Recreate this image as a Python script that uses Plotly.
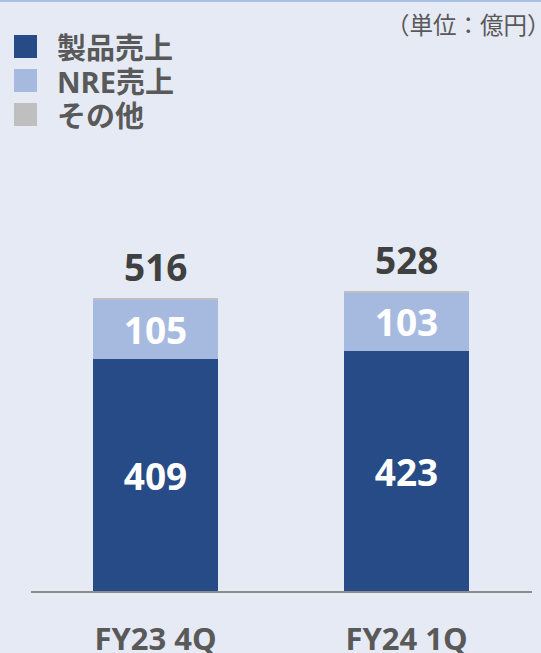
import plotly.graph_objects as go

# ---- data ----
categories = ["FY23 4Q", "FY24 1Q"]
series_names = ["製品売上", "NRE売上", "その他"]
product_sales = [409, 423]
nre_sales = [105, 103]
other_sales = [2, 2]
totals = [516, 528]
unit_label = "（単位：億円）"

colors = ["#264b86", "#a6badf", "#bfbfbf"]
FONT = "Open Sans, Noto Sans CJK JP, sans-serif"

W, H = 541, 653
L, R, T, B = 31, 9, 0, 62
PW, PH = W - L - R, H - T - B


def px2paper(x, y):
    return (x - L) / PW, (H - B - y) / PH


fig = go.Figure()
values = [product_sales, nre_sales, other_sales]
for i, (name, vals) in enumerate(zip(series_names, values)):
    fig.add_trace(go.Bar(
        x=list(range(len(categories))), y=vals, name=name,
        marker=dict(color=colors[i], line=dict(width=0)),
        width=0.498,
        text=[str(v) for v in vals] if i < 2 else None,
        textposition="inside" if i < 2 else "none",
        insidetextanchor="middle",
        constraintext="none",
        textfont=dict(family=FONT, size=37, color="white", weight="bold"),
        showlegend=False,
        hoverinfo="skip",
    ))

# totals above bars
for i, t in enumerate(totals):
    fig.add_annotation(x=i, y=t, text=str(t), showarrow=False,
                       yanchor="middle", yshift=32,
                       font=dict(family=FONT, size=37, color="#404040", weight="bold"))

# manual legend
for i, name in enumerate(series_names):
    cy = 46.5 + 34 * i
    x0, y0 = px2paper(14, cy - 11.5)
    x1, y1 = px2paper(37, cy + 11.5)
    fig.add_shape(type="rect", xref="paper", yref="paper",
                  x0=x0, x1=x1, y0=y0, y1=y1,
                  fillcolor=colors[i], line=dict(width=0))
    ax, ay = px2paper(55, cy + 1)
    fig.add_annotation(xref="paper", yref="paper", x=ax, y=ay, text=name,
                       showarrow=False, xanchor="left", yanchor="middle",
                       font=dict(family=FONT, size=29, color="#595959", weight="bold"))

# unit label
ux, uy = px2paper(553, 25)
fig.add_annotation(xref="paper", yref="paper", x=ux, y=uy, text=unit_label,
                   showarrow=False, xanchor="right", yanchor="middle",
                   font=dict(family=FONT, size=23.5, color="#595959"))

# top border line
bx0, by = px2paper(0, 1)
bx1, _ = px2paper(W, 1)
fig.add_shape(type="line", xref="paper", yref="paper", x0=bx0, x1=bx1, y0=by, y1=by,
              line=dict(color="#a9c0e6", width=2))

fig.update_layout(
    width=W, height=H,
    margin=dict(l=L, r=R, t=T, b=B, autoexpand=False),
    barmode="stack",
    paper_bgcolor="#e5eaf5",
    plot_bgcolor="#e5eaf5",
    xaxis=dict(
        range=[-0.496, 1.5],
        tickvals=list(range(len(categories))),
        ticktext=categories,
        tickfont=dict(family=FONT, size=31, color="#595959", weight="bold"),
        ticks="outside", ticklen=20, tickcolor="rgba(0,0,0,0)",
        showline=True, linecolor="#8c8c8c", linewidth=2,
        showgrid=False, zeroline=False, fixedrange=True, automargin=False,
    ),
    yaxis=dict(
        range=[0, PH / 0.567],
        visible=False, showgrid=False, zeroline=False, fixedrange=True,
        automargin=False,
    ),
)

fig.write_html("out.html", config={"displayModeBar": False},
               post_script="document.body.style.margin='0';document.body.style.overflow='hidden';")
